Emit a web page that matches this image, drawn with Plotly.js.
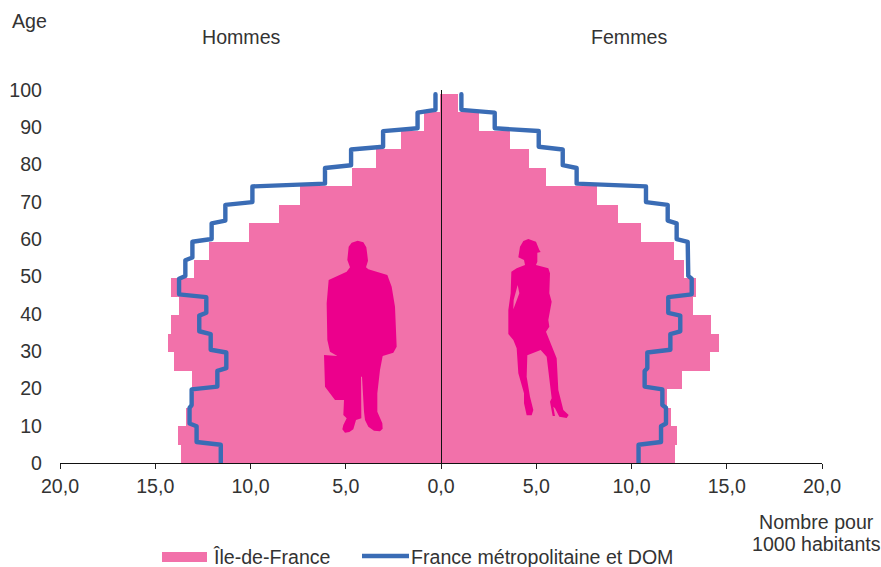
<!DOCTYPE html>
<html><head><meta charset="utf-8">
<script src="https://cdn.plot.ly/plotly-3.0.1.min.js"></script>
<style>html,body{margin:0;padding:0;background:#fff}#c{width:881px;height:567px}
.scatterlayer path.js-line{stroke-linecap:round;stroke-linejoin:round}</style>
</head><body><div id="c"></div>
<script>
const bandStart=[0,5,10,15,20,25,30,35,40,45,50,55,60,65,70,75,80,85,90,95];
const idfMen=[13.65,13.81,13.39,13.07,13.07,14.02,14.33,14.17,13.75,14.17,12.97,12.18,10.08,8.5,7.4,4.67,3.41,2.1,0.89,0.05];
const idfWomen=[12.28,12.39,12.07,11.86,12.65,14.12,14.59,14.17,13.23,13.39,12.76,12.23,10.5,9.29,8.19,5.51,4.62,3.62,1.99,0.89];
const franceMen=[11.56,12.83,13.2,13.09,11.74,11.27,12.09,12.69,12.32,13.75,13.42,13.05,12.04,11.32,9.9,6.09,4.72,3.04,1.23,0.29];
const franceWomen=[10.37,11.55,11.81,11.62,10.69,10.83,12.04,12.56,11.93,13.16,12.98,12.95,12.37,11.9,10.76,7.12,6.39,5.13,2.82,1.07];
const xTickVals=[-20,-15,-10,-5,0,5,10,15,20];
const xTickText=["20,0","15,0","10,0","5,0","0,0","5,0","10,0","15,0","20,0"];
const ageLabels=[0,10,20,30,40,50,60,70,80,90,100];
const labelStretch=1.0108;   // age labels are spaced slightly wider than the bars in the source
const W=881,H=567,L=60,R=822,T=90,B=463;
const pink="#F271AA",blue="#3A6CB5",magenta="#EC008C",ink="#333333",fontFam='"Liberation Sans",Arial,sans-serif',fs=19.6;

function stepLine(vals,sign){
  const x=[],y=[];
  vals.forEach((v,i)=>{
    x.push(sign*v,sign*v);
    y.push(i===0?0:bandStart[i]+0.7, bandStart[i]+4.95);
  });
  return {x,y};
}
const mk=(vals,sign)=>({type:"bar",orientation:"h",x:vals.map(v=>sign*v),y:bandStart.map(a=>a+2.5),width:5,
  marker:{color:pink,line:{width:0}},name:"Île-de-France",showlegend:false,hoverinfo:"x+y"});
const ln=(vals,sign)=>{const s=stepLine(vals,sign);return {type:"scatter",mode:"lines",x:s.x,y:s.y,
  line:{color:blue,width:4.4,shape:"linear"},name:"France métropolitaine et DOM",showlegend:false,cliponaxis:false}};

const zx=v=>(300+v/3-L)/(R-L), zy=v=>(B-(230+v/3))/(B-T);
const pathOf=pts=>"M"+pts.map(p=>zx(p[0])+","+zy(p[1])).join("L")+"Z";
const man=[[173,32],[190,37],[199,52],[202,75],[204,92],[198,112],[205,118],[262,135],[275,170],[285,230],[290,350],[280,368],[248,378],[240,420],[232,490],[232,545],[247,580],[248,596],[240,604],[222,602],[205,590],[195,570],[192,545],[186,440],[183,440],[184,565],[168,570],[160,598],[148,606],[135,608],[127,598],[130,585],[140,565],[130,555],[132,510],[105,510],[75,470],[72,375],[112,378],[90,365],[82,330],[80,220],[86,150],[140,125],[150,112],[142,90],[146,50],[155,38]];
const woman=[[685,27],[708,35],[718,60],[722,66],[712,68],[712,95],[708,105],[745,115],[750,130],[748,190],[755,215],[745,270],[748,290],[738,305],[770,385],[775,480],[790,540],[806,555],[800,564],[778,560],[765,535],[760,530],[765,558],[758,558],[750,515],[755,505],[740,380],[722,360],[682,376],[680,440],[690,500],[700,540],[695,556],[680,556],[672,520],[672,490],[655,430],[650,355],[640,330],[625,312],[625,240],[632,190],[634,125],[650,115],[675,105],[672,90],[655,82],[660,50],[670,33]];
const womanSlit=[[653,165],[658,190],[646,222],[640,238],[641,210]];
const px=v=>(v-L)/(R-L), py=v=>(B-v)/(B-T);
const note=(text,cx,cy,anchor)=>({text,xref:"paper",yref:"paper",x:px(cx),y:py(cy),xanchor:anchor||"center",yanchor:"middle",showarrow:false,font:{family:fontFam,size:fs,color:ink},align:"center"});

Plotly.newPlot("c",[mk(idfMen,-1),mk(idfWomen,1),ln(franceMen,-1),ln(franceWomen,1)],{
  width:W,height:H,paper_bgcolor:"#fff",plot_bgcolor:"#fff",
  margin:{l:L,r:W-R,t:T,b:H-B,pad:0},
  barmode:"overlay",bargap:0,showlegend:false,
  font:{family:fontFam,size:fs,color:ink},
  xaxis:{range:[-20,20],tickmode:"array",tickvals:xTickVals,ticktext:xTickText,ticks:"outside",ticklen:5,tickcolor:"#222",tickwidth:1,
    showline:true,linecolor:"#111",linewidth:1,showgrid:false,zeroline:false,ticklabelstandoff:0},
  yaxis:{range:[0,100*labelStretch],tickmode:"array",tickvals:ageLabels.map(a=>a*labelStretch),ticktext:ageLabels.map(String),ticks:"",
    showline:false,showgrid:false,zeroline:false,ticklabelstandoff:17},
  shapes:[
    {type:"line",xref:"x",yref:"paper",x0:0.026,x1:0.026,y0:0,y1:1,line:{color:"#111",width:1},layer:"above"},
    {type:"path",xref:"paper",yref:"paper",path:pathOf(man),fillcolor:magenta,line:{width:0},layer:"above"},
    {type:"path",xref:"paper",yref:"paper",path:pathOf(woman),fillcolor:magenta,line:{width:0},layer:"above"},
    {type:"path",xref:"paper",yref:"paper",path:pathOf(womanSlit),fillcolor:pink,line:{width:0},layer:"above"},
    {type:"rect",xref:"paper",yref:"paper",x0:px(162),x1:px(207),y0:py(562),y1:py(552),fillcolor:pink,line:{width:0}},
    {type:"line",xref:"paper",yref:"paper",x0:px(362),x1:px(409),y0:py(556),y1:py(556),line:{color:blue,width:4.4}}
  ],
  annotations:[
    note("Age",29.5,21),note("Hommes",241.5,37),note("Femmes",629,37),
    note("Nombre pour",816.5,522),note("1000 habitants",816,544),
    note("Île-de-France",211,557,"left"),note("France métropolitaine et DOM",409,557,"left")
  ]
},{displayModeBar:false,staticPlot:true});
</script></body></html>
